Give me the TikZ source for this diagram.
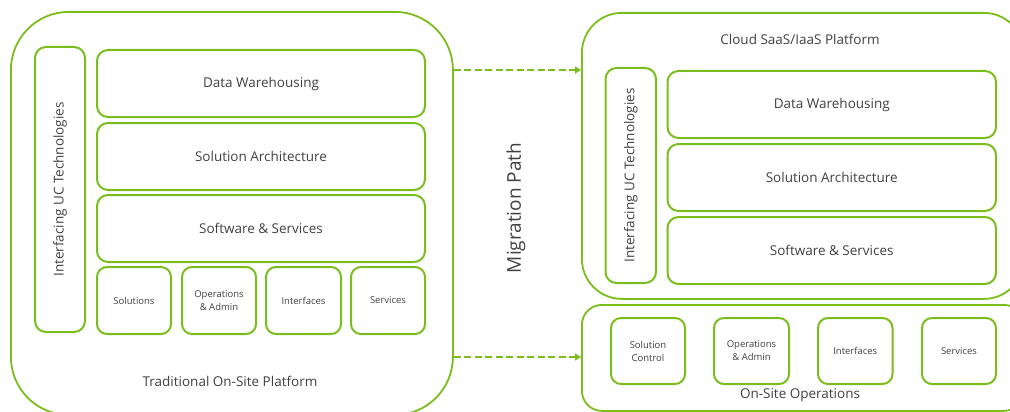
\documentclass[tikz,border=0pt]{standalone}
\usepackage{fontspec}
\setmainfont{Open Sans}
\usetikzlibrary{arrows.meta}
\definecolor{leaf}{RGB}{122,190,30}
\definecolor{ink}{RGB}{64,64,64}
\begin{document}
\begin{tikzpicture}[x=1pt,y=-1pt,
  frame/.style={draw=leaf, line width=1.8pt, anchor=north west, inner sep=0pt},
  layer/.style={draw=leaf, line width=2pt, rounded corners=11pt, anchor=north west,
    inner sep=0pt, text=ink, font=\fontsize{13.5pt}{16pt}\selectfont, align=center},
  unit/.style={layer, rounded corners=10pt, font=\fontsize{9.5pt}{13pt}\selectfont},
  upright/.style={layer, anchor=center, rotate=90},
  caption/.style={text=ink, font=\fontsize{13.5pt}{16pt}\selectfont, inner sep=0pt},
  flow/.style={draw=leaf, line width=2.4pt, dash pattern=on 7pt off 3.5pt,
    -{Triangle[length=6pt,width=7pt]}}
]
\useasboundingbox (0,0) rectangle (1010,412);
\clip (0,0) rectangle (1010,412);

% ---- traditional on-site platform ----
\node[frame, rounded corners=58pt, minimum width=442pt, minimum height=403pt] (trad) at (10,11) {};
\node[caption] (tradcap) at (230,381) {Traditional On-Site Platform};
\node[upright, minimum width=285pt, minimum height=50pt] (ucL) at (60,189.5) {Interfacing UC Technologies};
\node[layer, minimum width=328pt, minimum height=67pt] (dwL) at (96,49) {Data Warehousing};
\node[layer, minimum width=328pt, minimum height=67pt] (saL) at (96,122) {Solution Architecture};
\node[layer, minimum width=328pt, minimum height=67pt] (ssL) at (96,194) {Software \& Services};
\node[unit, minimum width=74pt, minimum height=67pt] (solL) at (96,266) {Solutions};
\node[unit, minimum width=74pt, minimum height=67pt] (opsL) at (181,266) {Operations\\\& Admin};
\node[unit, minimum width=75pt, minimum height=67pt] (ifcL) at (265,266) {Interfaces};
\node[unit, minimum width=74pt, minimum height=67pt] (srvL) at (350,266) {Services};

% ---- migration label ----
\node[caption, rotate=90, font=\fontsize{19pt}{22pt}\selectfont] (mig) at (516,208) {Migration Path};

% ---- cloud platform ----
\node[frame, rounded corners=40pt, minimum width=442pt, minimum height=286pt] (cloud) at (581,12) {};
\node[caption] (cloudcap) at (800,39) {Cloud SaaS/IaaS Platform};
\node[upright, minimum width=215pt, minimum height=50.5pt] (ucR) at (630.75,175.5) {Interfacing UC Technologies};
\node[layer, minimum width=328.5pt, minimum height=67pt] (dwR) at (666.5,70) {Data Warehousing};
\node[layer, minimum width=328.5pt, minimum height=67pt] (saR) at (666.5,143) {Solution Architecture};
\node[layer, minimum width=328.5pt, minimum height=67pt] (ssR) at (666.5,216) {Software \& Services};

% ---- on-site operations ----
\node[frame, rounded corners=20pt, minimum width=442pt, minimum height=106pt] (onsite) at (581,304) {};
\node[caption] (onsitecap) at (800,395) {On-Site Operations};
\node[unit, minimum width=74pt, minimum height=66pt] (solR) at (610,317) {Solution\\Control};
\node[unit, minimum width=75pt, minimum height=66pt] (opsR) at (713,317) {Operations\\\& Admin};
\node[unit, minimum width=74.5pt, minimum height=66pt] (ifcR) at (817,317) {Interfaces};
\node[unit, minimum width=74pt, minimum height=66pt] (srvR) at (921,317) {Services};

% ---- migration arrows ----
\coordinate (upper) at (trad.east |- dwR.north);
\coordinate (lower) at (trad.east |- 0,357);
\draw[flow] (upper) -- (cloud.west |- upper);
\draw[flow] (lower) -- (onsite.west |- lower);
\end{tikzpicture}
\end{document}
